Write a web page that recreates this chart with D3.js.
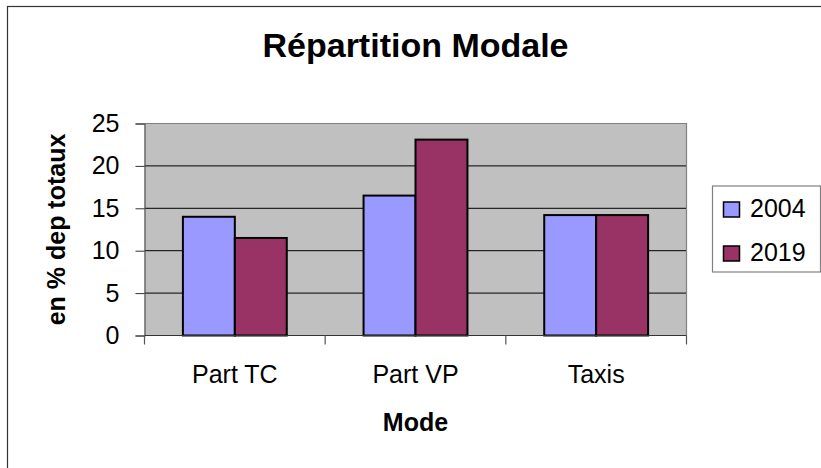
<!DOCTYPE html>
<html>
<head>
<meta charset="utf-8">
<script src="https://cdn.jsdelivr.net/npm/d3@7"></script>
<style>
  body { margin: 0; background: #fff; }
  svg { display: block; font-family: "Liberation Sans", Arial, sans-serif; }
</style>
</head>
<body>
<svg id="chart" width="821" height="468"></svg>
<script>
// data
var categories = ["Part TC", "Part VP", "Taxis"];
var seriesNames = ["2004", "2019"];
var values2004 = [14.0, 16.5, 14.2];
var values2019 = [11.5, 23.1, 14.2];
var yTicks = [0, 5, 10, 15, 20, 25];
var colors = ["#9999FF", "#993366"];

var seriesValues = [values2004, values2019];

var margin = {top: 123.5, left: 144.5};
var width = 542;
var height = 212;

var svg = d3.select("#chart");

// outer frame (runs off right & bottom, like the screenshot)
svg.append("rect")
    .attr("x", 7.5).attr("y", 6.5)
    .attr("width", 830).attr("height", 480)
    .attr("fill", "#fff")
    .attr("stroke", "#333").attr("stroke-width", 1.2);

var chart = svg.append("g")
    .attr("transform", "translate(" + margin.left + "," + margin.top + ")");

// scales
var x0 = d3.scaleBand().domain(categories).range([0, width]);
var groupW = x0.bandwidth() * 0.575;
var x1 = d3.scaleBand().domain(seriesNames)
    .range([(x0.bandwidth() - groupW) / 2, (x0.bandwidth() + groupW) / 2]);
var y = d3.scaleLinear().domain([0, 25]).range([height, 0]);

// plot background
chart.append("rect")
    .attr("width", width).attr("height", height)
    .attr("fill", "#C0C0C0");

// gridlines
chart.selectAll(".grid")
    .data(yTicks.filter(function(d) { return d > 0 && d < 25; }))
    .enter().append("line")
    .attr("x1", 0).attr("x2", width)
    .attr("y1", function(d) { return y(d); })
    .attr("y2", function(d) { return y(d); })
    .attr("stroke", "#000").attr("stroke-width", 1);

// top and right border of plot area
chart.append("path")
    .attr("d", "M0,0H" + width + "V" + height)
    .attr("fill", "none")
    .attr("stroke", "#808080").attr("stroke-width", 1.2);

// bars
seriesNames.forEach(function(s, si) {
    chart.selectAll(".bar-" + s)
        .data(seriesValues[si])
        .enter().append("rect")
        .attr("x", function(d, i) { return x0(categories[i]) + x1(s); })
        .attr("y", function(d) { return y(d); })
        .attr("width", x1.bandwidth())
        .attr("height", function(d) { return height - y(d); })
        .attr("fill", colors[si])
        .attr("stroke", "#000").attr("stroke-width", 2);
});

// y axis
var yAxis = d3.axisLeft(y).tickValues(yTicks).tickSize(9).tickPadding(16);
var yG = chart.append("g").call(yAxis);
yG.select(".domain").attr("stroke", "#555").attr("stroke-width", 1.2);
yG.selectAll(".tick line").attr("stroke", "#333");
yG.selectAll("text")
    .attr("font-size", 25)
    .attr("font-family", "Liberation Sans, Arial, sans-serif")
    .attr("fill", "#000");

// x axis: ticks at band boundaries
var xG = chart.append("g").attr("transform", "translate(0," + height + ")");
xG.append("line")
    .attr("x1", 0).attr("x2", width)
    .attr("stroke", "#333").attr("stroke-width", 1.2);
var bounds = categories.map(function(c) { return x0(c); }).concat([width]);
xG.selectAll(".xtick")
    .data(bounds)
    .enter().append("line")
    .attr("x1", function(d) { return d; }).attr("x2", function(d) { return d; })
    .attr("y1", 0).attr("y2", 9)
    .attr("stroke", "#555").attr("stroke-width", 1.2);
xG.selectAll(".xlabel")
    .data(categories)
    .enter().append("text")
    .attr("x", function(d) { return x0(d) + x0.bandwidth() / 2; })
    .attr("y", 47.5)
    .attr("text-anchor", "middle")
    .attr("font-size", 25)
    .text(function(d) { return d; });

// title
svg.append("text")
    .attr("x", margin.left + width / 2)
    .attr("y", 57)
    .attr("text-anchor", "middle")
    .attr("font-size", 34).attr("font-weight", "bold")
    .text("Répartition Modale");

// axis titles
svg.append("text")
    .attr("x", margin.left + width / 2)
    .attr("y", 431)
    .attr("text-anchor", "middle")
    .attr("font-size", 25).attr("font-weight", "bold")
    .text("Mode");

svg.append("text")
    .attr("transform", "translate(65," + (margin.top + height / 2) + ") rotate(-90)")
    .attr("text-anchor", "middle")
    .attr("font-size", 25).attr("font-weight", "bold")
    .text("en % dep totaux");

// legend
var legend = svg.append("g").attr("transform", "translate(712.5,186)");
legend.append("rect")
    .attr("width", 108).attr("height", 86)
    .attr("fill", "#fff")
    .attr("stroke", "#808080").attr("stroke-width", 1.2);
seriesNames.forEach(function(s, i) {
    legend.append("rect")
        .attr("x", 11).attr("y", 16 + 44 * i)
        .attr("width", 16).attr("height", 15)
        .attr("fill", colors[i])
        .attr("stroke", "#000").attr("stroke-width", 1.5);
    legend.append("text")
        .attr("x", 37.5).attr("y", 31 + 44 * i)
        .attr("font-size", 25)
        .text(s);
});
</script>
</body>
</html>
